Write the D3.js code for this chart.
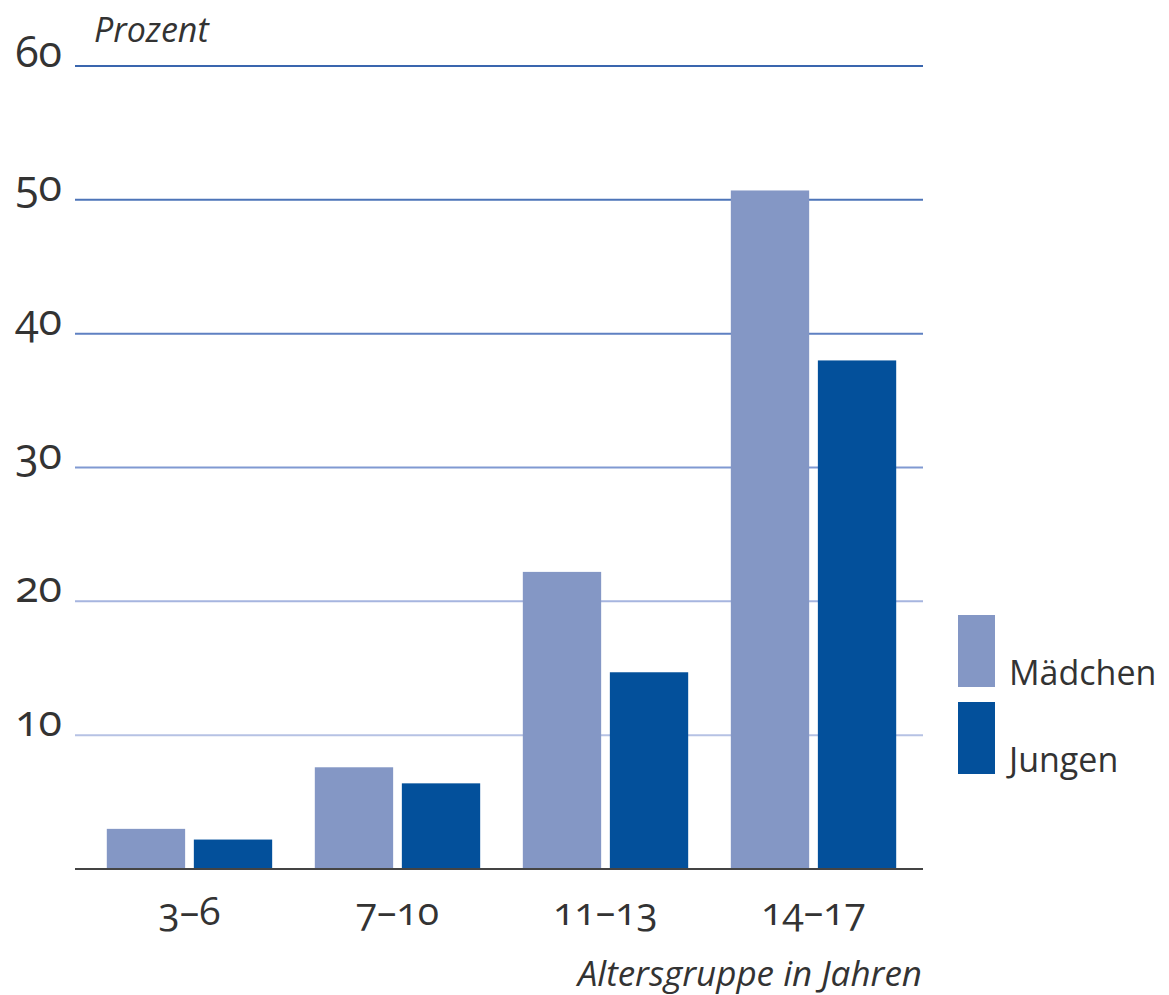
<!DOCTYPE html>
<html lang="de">
<head>
<meta charset="utf-8">
<script src="https://cdn.jsdelivr.net/npm/d3@7"></script>
<style>
  html, body { margin: 0; padding: 0; background: #fff; }
  svg { display: block; }
  text { font-family: "Open Sans", "Noto Sans", sans-serif; fill: #333; font-variant-numeric: oldstyle-nums; }
  .ital { font-style: italic; }
</style>
</head>
<body>
<svg id="chart" width="1169" height="995"></svg>
<script>
// Anteil nach Altersgruppe und Geschlecht (Prozent)
const categories = ["3–6", "7–10", "11–13", "14–17"];
const seriesNames = ["Mädchen", "Jungen"];
const maedchen = [3.0, 7.6, 22.2, 50.7];
const jungen = [2.2, 6.4, 14.7, 38.0];
const yTicks = [10, 20, 30, 40, 50, 60];
const yTitle = "Prozent";
const xTitle = "Altersgruppe in Jahren";

const colors = { "Mädchen": "#8497c5", "Jungen": "#03509b" };
const gridColor = d3.scaleLinear().domain([10, 20, 30, 40, 60]).range(["#b6c2e4", "#a6b5df", "#8099d2", "#5f81c2", "#3a66ae"]);

const rows = categories.map((c, i) => ({ cat: c, values: [
  { key: "Mädchen", value: maedchen[i] },
  { key: "Jungen", value: jungen[i] }
]}));

const svg = d3.select("#chart");

const y = d3.scaleLinear().domain([0, 60]).range([869, 66]);
const x0 = d3.scaleBand().domain(categories).range([86, 917]).paddingInner(0.205).paddingOuter(0.1);
const x1 = d3.scaleBand().domain(seriesNames).range([0, x0.bandwidth()]).paddingInner(0.1);

const gridLeft = 75, gridRight = 923;

// horizontal grid lines with tick labels
const grid = svg.append("g");
grid.selectAll("line").data(yTicks).join("line")
  .attr("x1", gridLeft).attr("x2", gridRight)
  .attr("y1", d => y(d)).attr("y2", d => y(d))
  .attr("stroke", d => gridColor(d)).attr("stroke-width", 2);
grid.selectAll("text").data(yTicks).join("text")
  .attr("x", 62).attr("y", d => y(d) + 1)
  .attr("text-anchor", "end")
  .attr("font-size", 43)
  .text(d => d);

// bars
const groups = svg.append("g").selectAll("g").data(rows).join("g")
  .attr("transform", d => `translate(${x0(d.cat)},0)`);
groups.selectAll("rect").data(d => d.values).join("rect")
  .attr("x", d => x1(d.key))
  .attr("width", x1.bandwidth())
  .attr("y", d => y(d.value))
  .attr("height", d => y(0) - y(d.value))
  .attr("fill", d => colors[d.key]);

// baseline
svg.append("line")
  .attr("x1", gridLeft).attr("x2", gridRight)
  .attr("y1", y(0)).attr("y2", y(0))
  .attr("stroke", "#444").attr("stroke-width", 2);

// category labels
svg.append("g").selectAll("text").data(categories).join("text")
  .attr("x", d => x0(d) + x0.bandwidth() / 2)
  .attr("y", 925)
  .attr("text-anchor", "middle")
  .attr("font-size", 39)
  .text(d => d);

// axis titles
svg.append("text").attr("class", "ital")
  .attr("x", 94).attr("y", 42)
  .attr("font-size", 34)
  .text(yTitle);
svg.append("text").attr("class", "ital")
  .attr("x", 922).attr("y", 986)
  .attr("text-anchor", "end")
  .attr("font-size", 35)
  .text(xTitle);

// legend
const legend = svg.append("g").selectAll("g").data(seriesNames).join("g")
  .attr("transform", (d, i) => `translate(958,${615 + i * 87})`);
legend.append("rect")
  .attr("width", 37).attr("height", 72)
  .attr("fill", d => colors[d]);
legend.append("text")
  .attr("x", 51).attr("y", 70)
  .attr("font-size", 34)
  .text(d => d);
</script>
</body>
</html>
